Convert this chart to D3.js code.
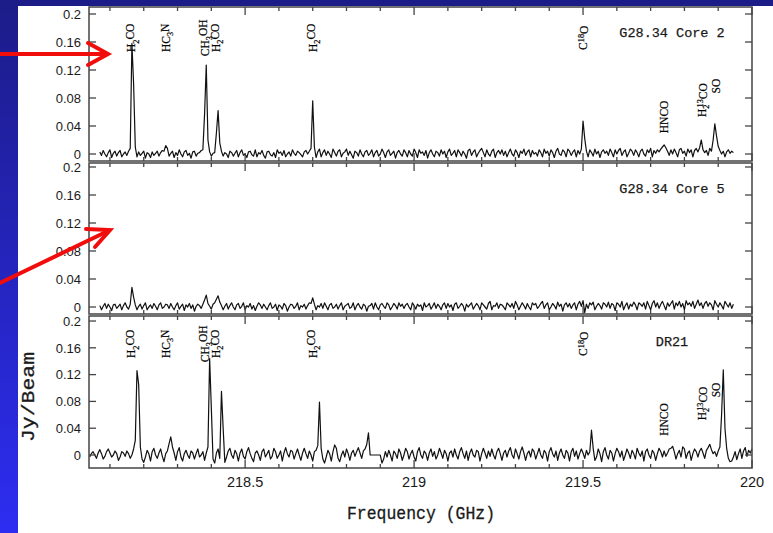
<!DOCTYPE html>
<html>
<head>
<meta charset="utf-8">
<script src="https://cdn.jsdelivr.net/npm/d3@7/dist/d3.min.js"></script>
<style>
  html, body { margin: 0; padding: 0; background: #fff; }
  svg { display: block; }
</style>
</head>
<body>
<svg id="chart" width="773" height="533"></svg>
<script>
// ---- Data ---------------------------------------------------------------
// Spectra in mJy/beam, one value per 0.005 GHz channel.
const channelStep = 0.005;            // GHz
const startCores = 218.070;           // first channel of the G28.34 spectra
const startDR21 = 218.040;            // first channel of the DR21 spectrum

const core2 = [
  3,-2,5,0,-4,2,6,-5,1,4,-3,2,5,-4,0,3,-2,4,8,158,
  100,10,-4,3,-2,1,4,-6,2,0,-5,3,-2,1,4,-3,2,5,4,12,
  8,-3,1,4,-5,2,-2,6,0,-4,3,5,-2,1,-6,3,4,-3,1,2,
  5,6,57,127,20,3,-3,1,2,30,62,16,4,-3,2,0,-5,4,2,-3,
  1,5,-4,2,6,-2,0,-5,3,4,-1,-3,6,-4,2,0,5,-2,-6,3,
  4,-1,-3,2,-5,6,1,3,-2,5,-4,0,3,-3,6,1,-2,4,2,-1,
  -4,3,5,0,4,8,76,10,-5,3,7,-4,2,6,-2,4,0,-5,7,2,
  -3,4,6,-4,1,3,7,-2,4,-1,-6,4,2,-3,6,0,-4,3,5,-2,
  1,6,-4,2,5,-3,0,7,2,-5,3,6,-2,1,4,-6,2,5,0,-3,
  6,2,-4,5,0,-3,7,2,-5,6,1,3,-2,5,-6,2,6,0,-4,4,
  2,-3,6,0,4,-5,3,7,-2,1,5,-4,6,2,-3,4,0,-6,5,7,
  -2,3,6,-4,1,5,8,2,-4,6,0,-3,4,7,-5,2,5,0,6,-2,
  4,-4,2,7,0,-3,6,2,-5,4,1,7,-2,3,6,-4,5,0,2,-3,
  6,2,-4,7,1,4,-3,6,2,-5,4,8,0,-2,6,3,-4,7,4,-2,
  3,6,-4,5,0,7,47,22,4,-4,6,2,-3,7,0,4,-5,3,6,1,
  4,-2,7,2,-4,6,0,5,8,-2,3,6,-4,1,7,4,-2,6,2,-4,
  4,7,0,-3,6,2,8,-4,5,1,6,3,7,10,13,9,4,-2,6,0,
  7,2,-4,6,8,1,4,-3,7,2,6,-4,5,8,3,9,20,6,2,5,
  -2,8,4,20,43,26,11,5,0,4,-4,3,6,1,4,2
];

const core5 = [
  2,-4,1,5,-2,4,0,-5,3,4,-2,1,4,-4,2,6,0,-3,4,28,
  14,3,-4,1,4,-3,2,6,-4,0,3,-2,5,1,-4,3,6,-2,0,4,
  3,-2,5,0,-4,2,6,-3,1,4,-5,3,0,5,-2,3,-6,1,4,2,
  -2,4,10,17,5,1,-3,4,6,11,16,7,2,-4,1,5,-3,2,6,0,
  -4,3,5,-2,1,6,-4,2,0,5,-3,2,-5,1,6,3,-2,4,0,-4,
  2,6,-2,0,4,-5,3,1,-3,5,2,-6,0,4,3,-2,1,6,-4,2,
  0,4,-3,2,6,5,13,4,-4,2,0,5,-2,6,1,-4,3,5,-2,0,
  4,-3,2,6,-4,1,3,5,-2,0,6,-4,2,5,0,-3,4,2,-6,1,
  2,5,-3,6,0,-4,3,5,1,-2,6,3,-4,0,5,2,-3,6,1,4,
  -2,3,5,0,-4,6,2,-3,4,1,3,-5,6,0,2,5,-3,1,6,-2,
  4,1,-4,3,6,-2,5,0,3,-5,4,6,-2,1,5,2,-6,4,0,3,
  6,-3,1,5,2,-4,6,3,0,-3,5,8,-4,2,1,6,-2,4,3,0,
  -4,6,3,0,5,-2,8,3,-4,1,6,2,-3,5,0,-4,6,3,5,-2,
  1,5,8,-2,3,6,-4,0,5,2,-3,7,1,4,-6,3,6,0,5,-2,
  3,6,-4,4,8,1,9,-8,4,-2,6,3,7,-4,1,5,2,-3,6,4,
  0,7,-2,5,3,-5,6,4,0,8,-4,2,6,-3,4,1,7,3,-4,6,
  4,1,6,-3,8,2,-4,5,9,0,6,-2,4,8,2,-4,6,1,5,9,
  -3,6,2,8,0,5,-4,9,3,6,1,8,-2,4,10,2,6,-2,5,8,
  1,6,3,-4,9,4,0,6,2,-3,8,4,0,6,-2,4
];

const dr21 = [
  -3,2,5,0,-5,3,8,2,-6,-2,5,9,3,-3,0,6,2,-8,-3,5,
  3,-2,6,2,-5,0,9,22,126,105,12,-6,-11,-3,7,2,-9,5,10,0,
  -5,3,9,-2,-10,2,6,17,27,12,3,-8,5,11,-3,-9,2,7,0,-5,
  6,3,-6,2,9,-3,0,5,-8,3,12,144,70,-6,-12,3,9,-5,95,40,
  -11,-3,6,10,0,-5,7,2,-9,3,9,-2,-6,5,11,2,-5,-10,3,6,
  0,-8,5,9,-3,2,7,-6,-2,10,5,-5,0,6,-9,3,11,2,-3,7,
  5,-6,2,9,0,-8,3,10,2,-5,6,0,-9,5,7,14,79,10,-6,-12,
  -3,7,2,-9,5,15,10,-5,-10,0,6,-3,9,2,-8,3,7,-2,5,11,
  3,-5,6,9,16,33,0,0,0,0,0,0,0,-12,-6,5,-3,7,0,-9,
  6,2,-5,9,3,-8,0,10,5,-6,2,7,-3,-9,5,11,0,-5,6,2,
  -8,3,9,-2,5,-6,0,10,3,-5,7,2,-9,3,6,-3,9,0,-6,5,
  11,2,-5,6,-8,3,9,0,-3,7,5,-9,2,10,3,-5,6,-2,9,0,
  -6,5,10,2,-8,3,7,-3,6,11,0,-5,9,2,-6,5,12,3,-8,2,
  6,-3,9,5,-6,2,10,0,-5,7,3,-9,5,11,2,-3,6,-8,3,9,
  0,-5,7,3,-9,5,10,-2,6,-6,2,9,3,-5,7,0,5,37,10,-8,
  -3,9,2,-10,5,11,0,-6,7,3,-9,2,10,5,-3,6,-8,0,9,3,
  -5,7,2,-6,10,3,-2,6,-9,5,9,0,-5,7,3,-8,2,10,5,-3,
  6,-2,3,9,10,13,5,-6,2,7,-3,12,9,-5,3,6,-8,2,9,5,
  -3,6,10,3,-5,7,11,16,8,2,5,-2,6,12,60,127,40,10,-5,-10,
  -9,-3,5,-7,2,9,-5,6,11,-2,7,3,9
];

const panelTitles = ["G28.34 Core 2", "G28.34 Core 5", "DR21"];

// Line identifications (frequency in GHz, label centre level in Jy/beam)
const lineNames = ["H2CO", "HC3N", "CH3OH", "H2CO", "H2CO", "C18O", "HNCO", "H213CO", "SO"];
const lineFreqs = [218.164, 218.266, 218.381, 218.415, 218.700, 219.500, 219.741, 219.852, 219.893];
const lineLevels = [0.166, 0.166, 0.166, 0.166, 0.166, 0.166, 0.053, 0.077, 0.097];

const yTickValues = [0, 0.04, 0.08, 0.12, 0.16, 0.2];
const yTickLabels = ["0", "0.04", "0.08", "0.12", "0.16", "0.2"];
const xMajorTicks = [218.5, 219, 219.5, 220];
const xTickLabels = ["218.5", "219", "219.5", "220"];
const xMinorTicks = [218.1, 218.2, 218.3, 218.4, 218.6, 218.7, 218.8, 218.9,
                     219.1, 219.2, 219.3, 219.4, 219.6, 219.7, 219.8, 219.9];

// ---- Drawing ------------------------------------------------------------
const svg = d3.select("#chart");
const W = 773, H = 533;

// slide background: blue gradient with the white figure placed on top
const defs = svg.append("defs");
const grad = defs.append("linearGradient").attr("id", "bg")
  .attr("x1", 0).attr("y1", 0).attr("x2", 0).attr("y2", 1);
grad.append("stop").attr("offset", "0%").attr("stop-color", "#1c1c88");
grad.append("stop").attr("offset", "100%").attr("stop-color", "#2d2df2");
svg.append("rect").attr("width", W).attr("height", H).attr("fill", "url(#bg)");
svg.append("rect").attr("x", 18).attr("y", 6).attr("width", W - 18).attr("height", H - 6).attr("fill", "#fff");

const x = d3.scaleLinear().domain([218.038, 220.0]).range([89, 752]);

const panels = [
  { title: panelTitles[0], data: core2, f0: startCores, top: 7,   bottom: 161, yMin: -0.01,   yMax: 0.21,   ids: true },
  { title: panelTitles[1], data: core5, f0: startCores, top: 163, bottom: 314, yMin: -0.01,   yMax: 0.2057, ids: false },
  { title: panelTitles[2], data: dr21,  f0: startDR21,  top: 316, bottom: 468, yMin: -0.0194, yMax: 0.2075, ids: true }
];

const frameColor = "#444";
const textColor = "#1a1a1a";

// molecule label with sub/superscripts
function writeMolecule(sel, name) {
  const parts = {
    "H2CO":   [["H", 0], ["2", 1], ["CO", -1]],
    "HC3N":   [["HC", 0], ["3", 1], ["N", -1]],
    "CH3OH":  [["CH", 0], ["3", 1], ["OH", -1]],
    "C18O":   [["C", 0], ["18", -1], ["O", 1]],
    "HNCO":   [["HNCO", 0]],
    "H213CO": [["H", 0], ["2", 1], ["13", -2, true], ["CO", 1]],
    "SO":     [["SO", 0]]
  }[name];
  parts.forEach(([t, shift, stack]) => {
    const small = /\d/.test(t);
    const ts = sel.append("tspan").text(t);
    if (shift !== 0) ts.attr("dy", (shift * 0.38) + "em");
    if (small) ts.attr("font-size", "0.72em");
    if (stack) ts.attr("dx", "-0.36em");
  });
}

panels.forEach((p, pi) => {
  const y = d3.scaleLinear().domain([p.yMin, p.yMax]).range([p.bottom, p.top]);
  const g = svg.append("g");

  // spectrum
  const pts = p.data.map((v, i) => [p.f0 + i * channelStep, v / 1000]);
  g.append("path")
    .datum(pts)
    .attr("fill", "none")
    .attr("stroke", "#111")
    .attr("stroke-width", 1.2)
    .attr("stroke-linejoin", "round")
    .attr("d", d3.line().x(d => x(d[0])).y(d => y(d[1])));

  // frame
  g.append("rect")
    .attr("x", x.range()[0]).attr("y", p.top)
    .attr("width", x.range()[1] - x.range()[0]).attr("height", p.bottom - p.top)
    .attr("fill", "none").attr("stroke", frameColor).attr("stroke-width", 1.5);

  // y ticks, inward on both sides
  yTickValues.forEach(v => {
    const yy = y(v);
    g.append("line").attr("x1", x.range()[0]).attr("x2", x.range()[0] + 7)
      .attr("y1", yy).attr("y2", yy).attr("stroke", frameColor).attr("stroke-width", 1.3);
    g.append("line").attr("x1", x.range()[1]).attr("x2", x.range()[1] - 7)
      .attr("y1", yy).attr("y2", yy).attr("stroke", frameColor).attr("stroke-width", 1.3);
  });
  g.selectAll("text.ytl").data(yTickValues).enter().append("text")
    .attr("class", "ytl")
    .attr("x", 81).attr("y", d => y(d)).attr("dy", "0.36em")
    .attr("text-anchor", "end")
    .attr("font-family", "'Liberation Sans', Arial, sans-serif")
    .attr("font-size", 13).attr("fill", textColor)
    .text((d, i) => yTickLabels[i]);

  // x ticks, inward on top and bottom
  const tick = (f, len) => {
    g.append("line").attr("x1", x(f)).attr("x2", x(f))
      .attr("y1", p.top).attr("y2", p.top + len).attr("stroke", frameColor).attr("stroke-width", 1.3);
    g.append("line").attr("x1", x(f)).attr("x2", x(f))
      .attr("y1", p.bottom).attr("y2", p.bottom - len).attr("stroke", frameColor).attr("stroke-width", 1.3);
  };
  xMajorTicks.forEach(f => tick(f, 8));
  xMinorTicks.forEach(f => tick(f, 4));

  // panel title
  g.append("text")
    .attr("x", 672).attr("y", p.top + 30)
    .attr("text-anchor", "middle")
    .attr("font-family", "'Liberation Mono', 'Courier New', monospace")
    .attr("font-size", 13.5).attr("fill", textColor)
    .attr("stroke", textColor).attr("stroke-width", 0.25)
    .text(p.title);

  // line identifications
  if (p.ids) {
    lineNames.forEach((name, i) => {
      const t = g.append("text")
        .attr("transform", `translate(${x(lineFreqs[i])},${y(lineLevels[i])}) rotate(-90)`)
        .attr("text-anchor", "middle")
        .attr("dy", "0.33em")
        .attr("font-family", "'Liberation Serif', 'Times New Roman', serif")
        .attr("font-size", 11.5).attr("fill", "#000")
        .attr("stroke", "#000").attr("stroke-width", 0.2);
      writeMolecule(t, name);
    });
  }

  // frequency tick labels under the last panel
  if (pi === panels.length - 1) {
    g.selectAll("text.xtl").data(xMajorTicks).enter().append("text")
      .attr("class", "xtl")
      .attr("x", d => x(d)).attr("y", p.bottom + 19)
      .attr("text-anchor", "middle")
      .attr("font-family", "'Liberation Sans', Arial, sans-serif")
      .attr("font-size", 14.5).attr("fill", textColor)
      .text((d, i) => xTickLabels[i]);
  }
});

// axis titles
svg.append("text")
  .attr("x", 421).attr("y", 519)
  .attr("text-anchor", "middle")
  .attr("font-family", "'Liberation Mono', 'Courier New', monospace")
  .attr("font-size", 18).attr("fill", textColor)
  .attr("stroke", textColor).attr("stroke-width", 0.3)
  .attr("textLength", 148).attr("lengthAdjust", "spacingAndGlyphs")
  .text("Frequency (GHz)");

svg.append("text")
  .attr("transform", "translate(27,397) rotate(-90)")
  .attr("dy", "0.35em")
  .attr("text-anchor", "middle")
  .attr("font-family", "'Liberation Mono', 'Courier New', monospace")
  .attr("font-size", 19).attr("fill", textColor)
  .attr("stroke", textColor).attr("stroke-width", 0.3)
  .attr("textLength", 90).attr("lengthAdjust", "spacingAndGlyphs")
  .text("Jy/Beam");

// red pointer arrows
const arrows = svg.append("g").attr("stroke", "#f20d0d").attr("stroke-width", 4)
  .attr("fill", "none").attr("stroke-linecap", "round").attr("stroke-linejoin", "miter");
arrows.append("line").attr("x1", 0).attr("y1", 54).attr("x2", 106).attr("y2", 54);
arrows.append("polyline").attr("points", "88,43 108,54 88,65");
arrows.append("line").attr("x1", 0).attr("y1", 283).attr("x2", 108).attr("y2", 231);
arrows.append("polyline").attr("points", "86,229 110,230 95,247");
</script>
</body>
</html>
